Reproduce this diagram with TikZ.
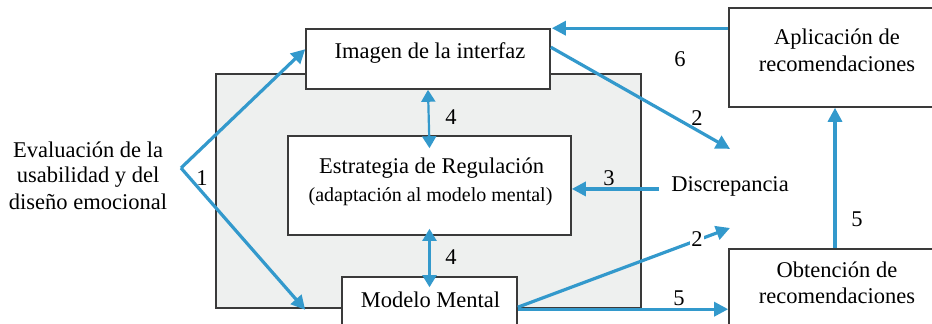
\documentclass[tikz,border=0pt]{standalone}
\usepackage{fontspec}
\setmainfont{Liberation Serif}
\usetikzlibrary{arrows.meta}
\definecolor{arrowblue}{HTML}{3399CC}
\definecolor{panelgray}{HTML}{EEF0EF}
\definecolor{edgegray}{HTML}{3A3A3A}
\begin{document}
\begin{tikzpicture}[x=1pt,y=-1pt,
  box/.style={draw=edgegray, line width=1.6pt, fill=white, inner sep=0pt},
  txt/.style={font=\fontsize{22.5}{26}\selectfont, inner sep=0pt, anchor=base},
  smalltxt/.style={font=\fontsize{20}{24}\selectfont, inner sep=0pt, anchor=base},
  arr/.style={draw=arrowblue, line width=3.2pt, -{Triangle[length=14pt,width=14pt]}},
  dbl/.style={draw=arrowblue, line width=2.2pt, {Triangle[length=12pt,width=14pt]}-{Triangle[length=12pt,width=14pt]}},
  num/.style={font=\fontsize{22.5}{26}\selectfont, inner sep=1pt}]
\useasboundingbox (0,0) rectangle (932,324);
% panel
\node[box, fill=panelgray, minimum width=425pt, minimum height=234pt] (panel) at (428.5,191) {};
% boxes
\node[box, minimum width=244pt, minimum height=60pt] (imagen) at (428,59) {};
\node[box, minimum width=283pt, minimum height=99pt] (estrat) at (429.5,185.5) {};
\node[box, minimum width=175pt, minimum height=68pt] (modelo) at (429.5,311) {};
\node[box, minimum width=216pt, minimum height=99pt] (aplic) at (837,57.5) {};
\node[box, minimum width=216pt, minimum height=96pt] (obten) at (837,297) {};
% texts
\node[txt] (imagenT) at (430,58) {Imagen de la interfaz};
\node[txt] (estratT1) at (431.5,173) {Estrategia de Regulación};
\node[smalltxt] (estratT2) at (430.5,201) {(adaptación al modelo mental)};
\node[txt] (modeloT) at (430.5,307) {Modelo Mental};
\node[txt] (aplicT1) at (837,44) {Aplicación de};
\node[txt] (aplicT2) at (837,71) {recomendaciones};
\node[txt] (obtenT1) at (837,277) {Obtención de};
\node[txt] (obtenT2) at (837,303) {recomendaciones};
\node[txt] (eval1) at (88,157) {Evaluación de la};
\node[txt] (eval2) at (88,182.5) {usabilidad y del};
\node[txt] (eval3) at (88,209) {diseño emocional};
\node[txt] (disc) at (730,191) {Discrepancia};
% helper coordinates
\coordinate (v) at (181,168);
\coordinate (up1) at ([yshift=-21pt]imagen.north west);
\coordinate (dn1) at ([xshift=90pt,yshift=-1pt]panel.south west);
\coordinate (s6) at (aplic.west |- imagen.north east);
\coordinate (e6) at ([xshift=1pt]imagen.north east);
\coordinate (s2a) at ([yshift=-19pt]imagen.north east);
\coordinate (e2a) at ([yshift=27pt]disc.north);
\coordinate (s3) at ([xshift=-12pt,yshift=-3pt]disc.west);
\coordinate (e3) at (estrat.east |- s3);
\coordinate (s2b) at ([yshift=-31pt]modelo.north east);
\coordinate (e2b) at ([yshift=-32pt]disc.south);
\coordinate (s5a) at ([yshift=-33pt]modelo.north east);
\coordinate (e5a) at (obten.west |- s5a);
\coordinate (s5b) at ([xshift=-2pt]obten.north);
\coordinate (e5b) at ([xshift=-2pt]aplic.south);
\coordinate (e4a) at ([yshift=-13pt]estrat.north);
\coordinate (s4b) at ([yshift=7pt]estrat.south);
\coordinate (e4b) at ([yshift=-11pt]modelo.north);
% connectors
\draw[arr] (v) -- (up1);
\draw[arr] (v) -- (dn1);
\draw[arr] (s6) -- (e6);
\draw[arr] (s2a) -- (e2a);
\draw[arr] (s3) -- (e3);
\draw[arr] (s2b) -- (e2b);
\draw[arr] (s5a) -- (e5a);
\draw[arr] (s5b) -- (e5b);
\draw[dbl] (imagen.south) -- (e4a);
\draw[dbl] (s4b) -- (e4b);
% labels
\node[num] (n1) at (202,178) {1};
\node[num] (n4a) at (451,117) {4};
\node[num] (n4b) at (451,257) {4};
\node[num] (n6) at (680,59) {6};
\node[num] (n2a) at (697,118) {2};
\node[num] (n3) at (609,178) {3};
\node[num, fill=white] (n2b) at (697,239) {2};
\node[num] (n5a) at (679,298) {5};
\node[num] (n5b) at (857,219) {5};
\end{tikzpicture}
\end{document}
